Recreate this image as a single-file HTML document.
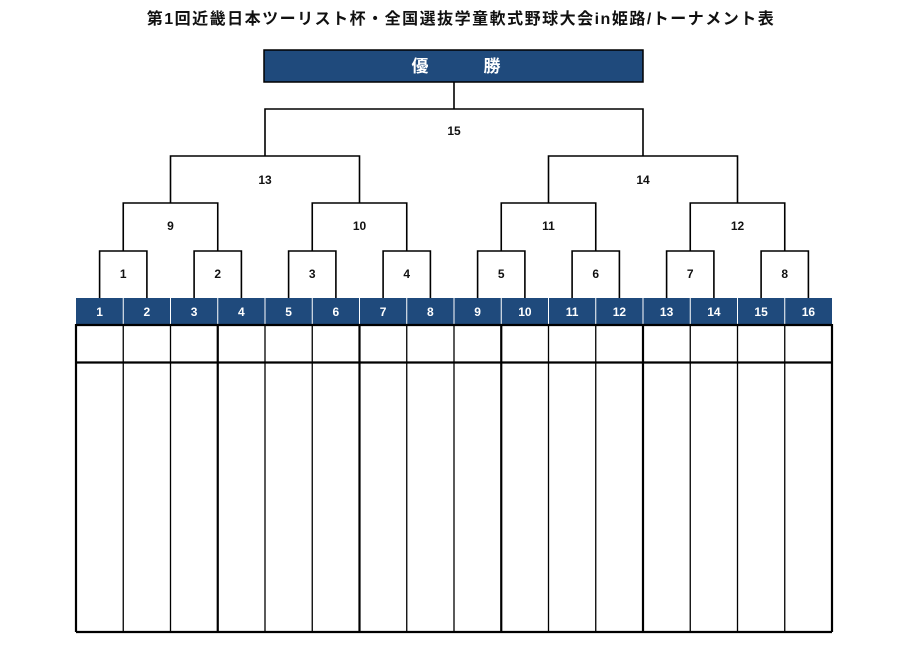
<!DOCTYPE html>
<html><head><meta charset="utf-8"><style>
body{margin:0;background:#fff;width:907px;height:656px;overflow:hidden}
svg{display:block}
text{font-family:"Liberation Sans","Noto Sans CJK JP",sans-serif;font-weight:bold}
</style></head><body>
<svg width="907" height="656" viewBox="0 0 907 656" xmlns="http://www.w3.org/2000/svg">
<text x="461" y="24" font-size="16" letter-spacing="1.5" text-anchor="middle" fill="#111">第1回近畿日本ツーリスト杯・全国選抜学童軟式野球大会in姫路/トーナメント表</text>
<rect x="264" y="50" width="379" height="32" fill="#1f4a7c" stroke="#000" stroke-width="1.5"/>
<text x="420" y="72" font-size="17" fill="#fff" text-anchor="middle">優</text>
<text x="492" y="72" font-size="17" fill="#fff" text-anchor="middle">勝</text>
<g fill="none" stroke="#000" stroke-width="1.6">
<path d="M454 82V109"/>
<path d="M265 156V109H643V156"/>
<path d="M170.5 203V156H359.5V203M548.5 203V156H737.5V203"/>
<path d="M123.25 251V203H217.75V251M312.25 251V203H406.75V251M501.25 251V203H595.75V251M690.25 251V203H784.75V251"/>
<path d="M99.6 298V251H146.9V298M194.1 298V251H241.4V298M288.6 298V251H335.9V298M383.1 298V251H430.4V298M477.6 298V251H524.9V298M572.1 298V251H619.4V298M666.6 298V251H713.9V298M761.1 298V251H808.4V298"/>
</g>
<g font-size="12" text-anchor="middle" fill="#111">
<text x="454" y="135">15</text>
<text x="265" y="184">13</text><text x="643" y="184">14</text>
<text x="170.5" y="230">9</text><text x="359.5" y="230">10</text><text x="548.5" y="230">11</text><text x="737.5" y="230">12</text>
<text x="123.25" y="278">1</text><text x="217.75" y="278">2</text><text x="312.25" y="278">3</text><text x="406.75" y="278">4</text><text x="501.25" y="278">5</text><text x="595.75" y="278">6</text><text x="690.25" y="278">7</text><text x="784.75" y="278">8</text>
</g>
<rect x="76" y="298" width="756" height="26" fill="#1f4a7c"/>
<g stroke="#fff" stroke-width="1">
<path d="M123.25 298V324M170.5 298V324M217.75 298V324M265 298V324M312.25 298V324M359.5 298V324M406.75 298V324M454 298V324M501.25 298V324M548.5 298V324M595.75 298V324M643 298V324M690.25 298V324M737.5 298V324M784.75 298V324"/>
</g>
<g font-size="12" text-anchor="middle" fill="#fff">
<text x="99.6" y="316">1</text><text x="146.9" y="316">2</text><text x="194.1" y="316">3</text><text x="241.4" y="316">4</text><text x="288.6" y="316">5</text><text x="335.9" y="316">6</text><text x="383.1" y="316">7</text><text x="430.4" y="316">8</text><text x="477.6" y="316">9</text><text x="524.9" y="316">10</text><text x="572.1" y="316">11</text><text x="619.4" y="316">12</text><text x="666.6" y="316">13</text><text x="713.9" y="316">14</text><text x="761.1" y="316">15</text><text x="808.4" y="316">16</text>
</g>
<g fill="none" stroke="#000">
<path stroke-width="1.3" d="M123.25 324V632M170.5 324V632M265 324V632M312.25 324V632M406.75 324V632M454 324V632M548.5 324V632M595.75 324V632M690.25 324V632M737.5 324V632M784.75 324V632"/>
<path stroke-width="2.2" d="M76 324V632M217.75 324V632M359.5 324V632M501.25 324V632M643 324V632M832 324V632M76 325H832M76 362.5H832M76 632H832"/>
</g>
</svg>
</body></html>
